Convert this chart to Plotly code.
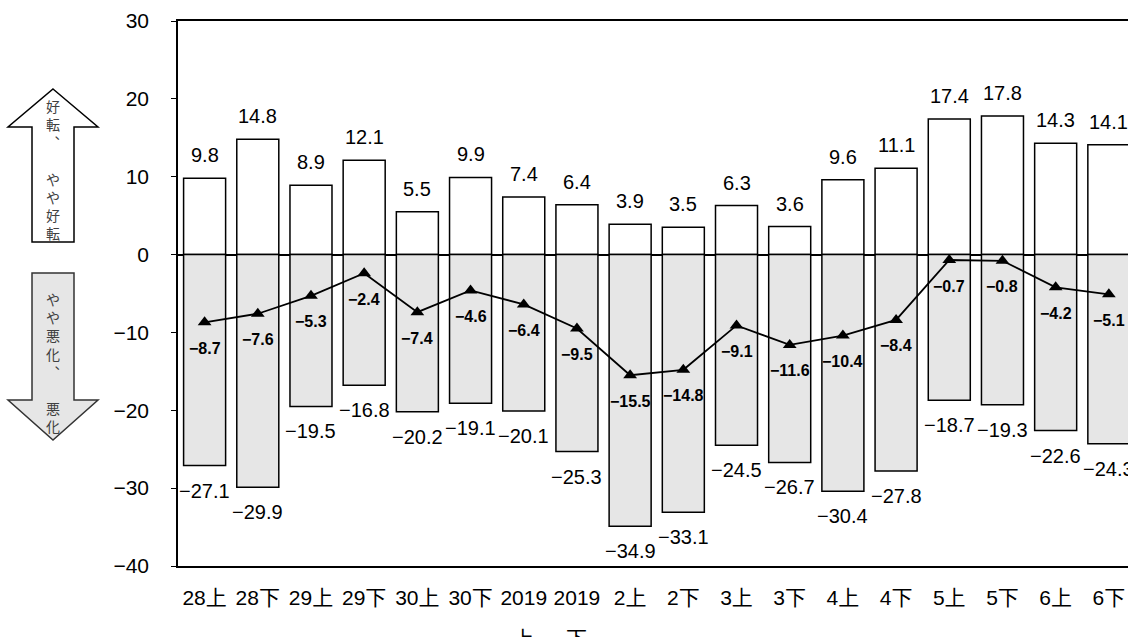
import plotly.graph_objects as go

# ---------------- data ----------------
categories = ["28上", "28下", "29上", "29下", "30上", "30下", "2019上", "2019下",
              "2上", "2下", "3上", "3下", "4上", "4下", "5上", "5下", "6上", "6下"]
improve = [9.8, 14.8, 8.9, 12.1, 5.5, 9.9, 7.4, 6.4, 3.9, 3.5, 6.3, 3.6,
           9.6, 11.1, 17.4, 17.8, 14.3, 14.1]          # 好転・やや好転
worsen = [-27.1, -29.9, -19.5, -16.8, -20.2, -19.1, -20.1, -25.3, -34.9, -33.1,
          -24.5, -26.7, -30.4, -27.8, -18.7, -19.3, -22.6, -24.3]  # やや悪化・悪化
net = [-8.7, -7.6, -5.3, -2.4, -7.4, -4.6, -6.4, -9.5, -15.5, -14.8, -9.1,
       -11.6, -10.4, -8.4, -0.7, -0.8, -4.2, -5.1]      # DI
y_ticks = [30, 20, 10, 0, -10, -20, -30, -40]
up_label = "好転︑　やや好転"
down_label = "やや悪化︑　悪化"
unit_label = "（単位：%）"

# ---------------- layout helpers ----------------
W, H = 1128, 637
L, R, T, B = 178, 0, 21, 71
PW, PH = W - L - R, H - T - B


def px(X):
    return (X - L) / PW


def py(Y):
    return (H - B - Y) / PH


def fmt(v):
    return f"{v:.1f}".replace("-", "−")


NUM_FONT = "Liberation Sans, Arial, sans-serif"
JP_FONT = "Noto Sans CJK JP, sans-serif"

tick_text = []
sub_labels = []
for c in categories:
    if c.startswith("2019"):
        tick_text.append("2019")
        sub_labels.append((c, c[4:]))
    else:
        tick_text.append(c)

fig = go.Figure()
fig.add_bar(x=categories, y=improve, name="好転・やや好転",
            marker=dict(color="white", line=dict(color="black", width=1.5)))
fig.add_bar(x=categories, y=worsen, name="やや悪化・悪化",
            marker=dict(color="#e6e6e6", line=dict(color="black", width=1.5)))
fig.add_scatter(x=categories, y=net, mode="lines+markers", name="DI",
                line=dict(color="black", width=1.8),
                marker=dict(symbol="triangle-up", size=12, color="black"))

ann = []
for c, v in zip(categories, improve):
    ann.append(dict(x=c, y=v, text=fmt(v), showarrow=False, yshift=23,
                    xanchor="center", yanchor="middle",
                    font=dict(family=NUM_FONT, size=20, color="black")))
for c, v in zip(categories, worsen):
    ann.append(dict(x=c, y=v, text=fmt(v), showarrow=False, yshift=-25,
                    xanchor="center", yanchor="middle",
                    font=dict(family=NUM_FONT, size=20, color="black")))
for c, v in zip(categories, net):
    ann.append(dict(x=c, y=v, text="<b>" + fmt(v) + "</b>", showarrow=False, yshift=-26,
                    xanchor="center", yanchor="middle",
                    font=dict(family=NUM_FONT, size=16, color="black")))
for c, s in sub_labels:
    ann.append(dict(x=c, xref="x", y=py(637), yref="paper",
                    xanchor="center", yanchor="middle",
                    text=s, showarrow=False,
                    font=dict(family=JP_FONT, size=21, color="black")))

# arrow texts
ann.append(dict(x=px(53), y=py(169), xref="paper", yref="paper", showarrow=False,
                xanchor="center", yanchor="middle",
                text="<br>".join(list(up_label)),
                font=dict(family=JP_FONT, size=14, color="#404040")))
ann.append(dict(x=px(53), y=py(363), xref="paper", yref="paper", showarrow=False,
                xanchor="center", yanchor="middle",
                text="<br>".join(list(down_label)),
                font=dict(family=JP_FONT, size=14, color="#404040")))
ann.append(dict(x=px(982), y=py(3), xref="paper", yref="paper",
                xanchor="center", yanchor="bottom",
                showarrow=False, text=unit_label,
                font=dict(family=JP_FONT, size=16, color="black")))


def path(pts):
    return "M " + " L ".join(f"{px(X):.5f},{py(Y):.5f}" for X, Y in pts) + " Z"


up_pts = [(53, 89), (98, 127), (74, 127), (74, 242), (32, 242), (32, 127), (8, 127)]
down_pts = [(32, 273), (74, 273), (74, 400), (98, 400), (53, 440), (8, 400), (32, 400)]
shapes = [
    dict(type="path", xref="paper", yref="paper", path=path(up_pts),
         fillcolor="white", line=dict(color="black", width=1.5)),
    dict(type="path", xref="paper", yref="paper", path=path(down_pts),
         fillcolor="#e6e6e6", line=dict(color="#333333", width=1.5)),
]

fig.update_layout(
    width=W, height=H,
    margin=dict(l=L, r=R, t=T, b=B, autoexpand=False),
    paper_bgcolor="white", plot_bgcolor="white",
    barmode="relative", bargap=0.21,
    showlegend=False,
    annotations=ann, shapes=shapes,
    xaxis=dict(type="category", range=[-0.5, 17.36],
               tickmode="array", tickvals=categories, ticktext=tick_text,
               showline=True, linecolor="black", linewidth=1.5, mirror=True,
               ticks="", showgrid=False, zeroline=False,
               ticklabelstandoff=12,
               tickfont=dict(family="Liberation Sans, Noto Sans CJK JP, sans-serif",
                             size=21, color="black")),
    yaxis=dict(range=[-40, 30], tickmode="array", tickvals=y_ticks,
               ticktext=[fmt(t).replace(".0", "") for t in y_ticks],
               showline=True, linecolor="black", linewidth=1.5, mirror=False,
               ticks="outside", ticklen=5, tickcolor="black", tickwidth=1,
               showgrid=False, zeroline=True, zerolinecolor="black", zerolinewidth=1.5,
               ticklabelstandoff=18,
               tickfont=dict(family=NUM_FONT, size=21, color="black")),
)

fig.write_html("out.html",
               config={"displayModeBar": False},
               post_script="document.body.style.margin='0px';"
                           "document.body.style.overflow='hidden';")
